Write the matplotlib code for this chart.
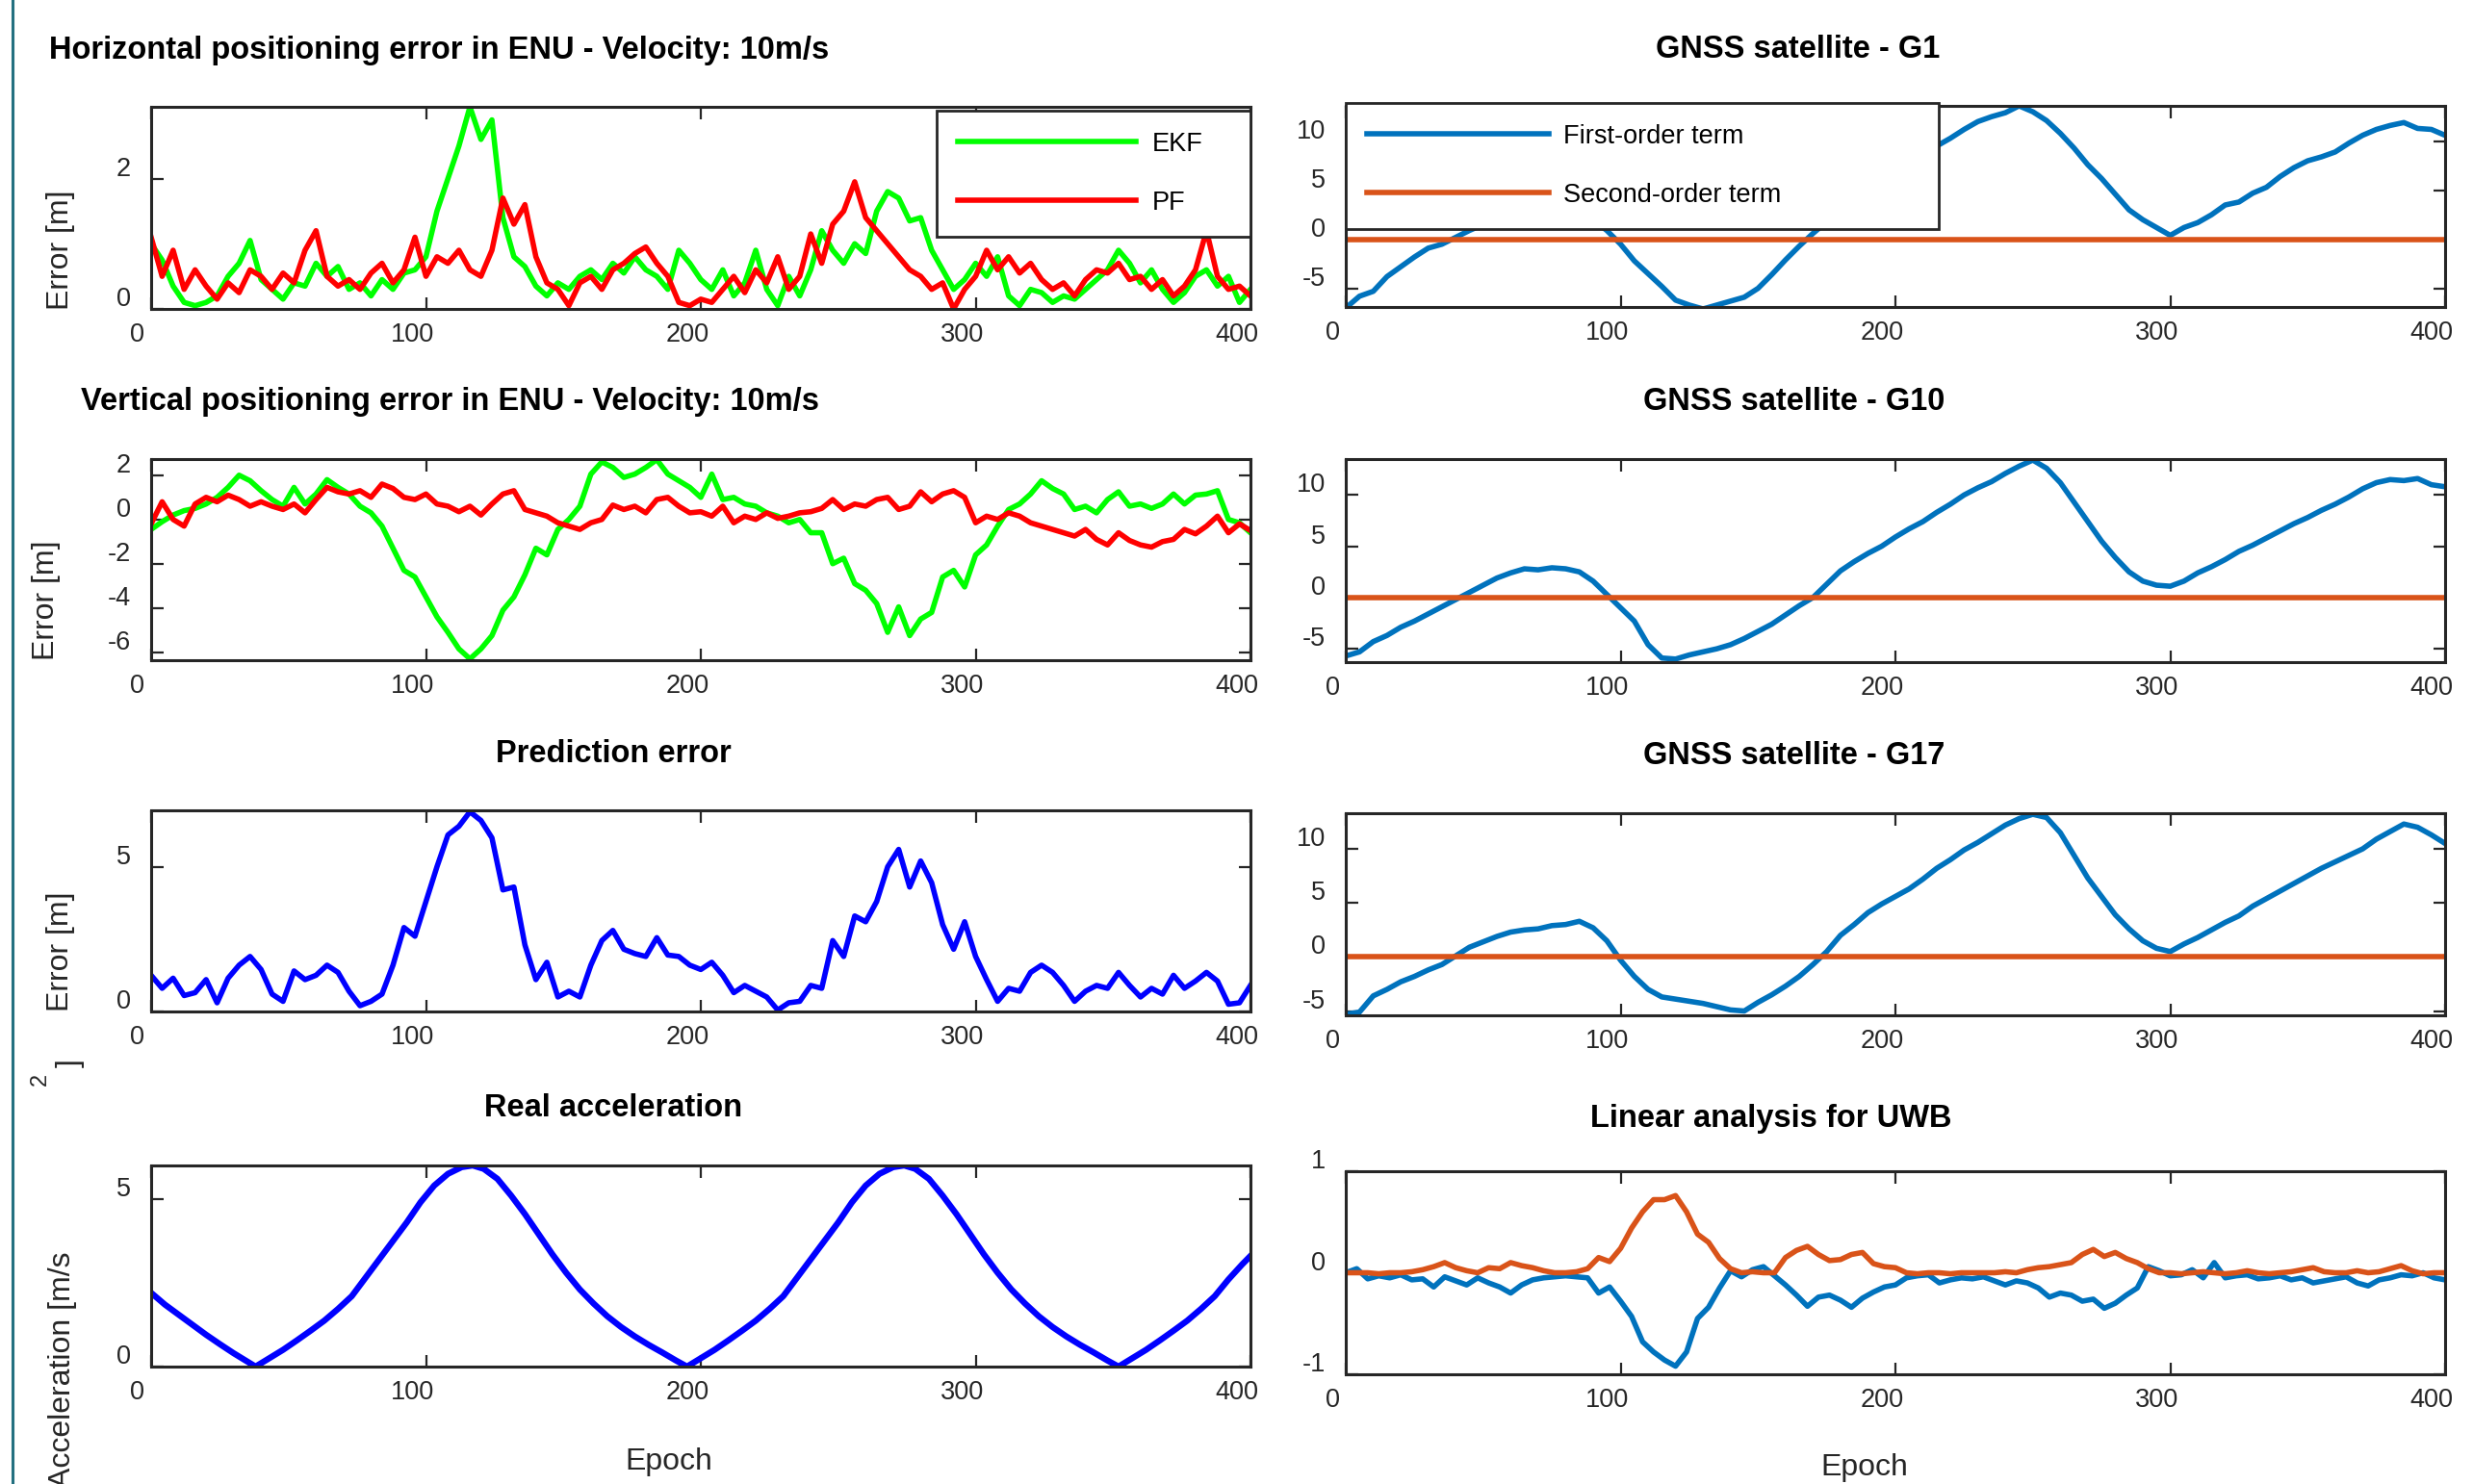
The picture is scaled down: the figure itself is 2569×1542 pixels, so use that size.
import numpy as np
import matplotlib
matplotlib.use("Agg")
import matplotlib.pyplot as plt
from matplotlib.transforms import ScaledTranslation
from matplotlib.lines import Line2D

plt.rcParams['font.family'] = ['Liberation Sans', 'DejaVu Sans']
plt.rcParams['axes.unicode_minus'] = False

# ---- data (epochs 0..400) ----
# horizontal error, step 4 epochs
horiz_ekf = [1.0, 0.75, 0.35, 0.1, 0.05, 0.1, 0.2, 0.5, 0.7, 1.05,
             0.45, 0.3, 0.15, 0.4, 0.35, 0.7, 0.5, 0.65, 0.3, 0.4,
             0.2, 0.45, 0.3, 0.55, 0.6, 0.8, 1.5, 2.0, 2.5, 3.1,
             2.6, 2.9, 1.4, 0.8, 0.65, 0.35, 0.2, 0.4, 0.3, 0.5,
             0.6, 0.45, 0.7, 0.55, 0.8, 0.6, 0.5, 0.3, 0.9, 0.7,
             0.45, 0.3, 0.6, 0.2, 0.4, 0.9, 0.3, 0.05, 0.5, 0.2,
             0.6, 1.2, 0.9, 0.7, 1.0, 0.85, 1.5, 1.8, 1.7, 1.35,
             1.4, 0.9, 0.6, 0.3, 0.45, 0.7, 0.5, 0.8, 0.2, 0.05,
             0.3, 0.25, 0.1, 0.2, 0.15, 0.3, 0.45, 0.6, 0.9, 0.7,
             0.4, 0.6, 0.3, 0.1, 0.25, 0.5, 0.6, 0.35, 0.5, 0.1,
             0.3]
horiz_pf = [1.1, 0.5, 0.9, 0.3, 0.6, 0.35, 0.15, 0.4, 0.25, 0.6,
            0.5, 0.3, 0.55, 0.4, 0.9, 1.2, 0.5, 0.35, 0.45, 0.3,
            0.55, 0.7, 0.4, 0.6, 1.1, 0.5, 0.8, 0.7, 0.9, 0.6,
            0.5, 0.9, 1.7, 1.3, 1.6, 0.8, 0.4, 0.3, 0.05, 0.4,
            0.5, 0.3, 0.6, 0.7, 0.85, 0.95, 0.7, 0.5, 0.1, 0.05,
            0.15, 0.1, 0.3, 0.5, 0.25, 0.6, 0.4, 0.8, 0.3, 0.5,
            1.15, 0.7, 1.3, 1.5, 1.95, 1.4, 1.2, 1.0, 0.8, 0.6,
            0.5, 0.3, 0.4, 0.0, 0.3, 0.5, 0.9, 0.6, 0.8, 0.55,
            0.7, 0.45, 0.3, 0.4, 0.2, 0.45, 0.6, 0.55, 0.7, 0.45,
            0.5, 0.3, 0.45, 0.2, 0.35, 0.6, 1.2, 0.5, 0.3, 0.35,
            0.2]

# vertical error, step 4 epochs
vert_ekf = [-0.45, -0.1, 0.2, 0.4, 0.5, 0.7, 1.0, 1.45, 2.0, 1.75,
            1.3, 0.9, 0.6, 1.45, 0.7, 1.15, 1.8, 1.45, 1.15, 0.6,
            0.3, -0.3, -1.3, -2.3, -2.6, -3.5, -4.4, -5.1, -5.85, -6.3,
            -5.85, -5.25, -4.1, -3.5, -2.5, -1.3, -1.6, -0.45, 0.0, 0.6,
            2.05, 2.6, 2.35, 1.9, 2.05, 2.35, 2.7, 2.05, 1.75, 1.45,
            1.0, 2.05, 0.9, 1.0, 0.7, 0.6, 0.3, 0.15, -0.15, 0.0,
            -0.6, -0.6, -2.0, -1.75, -2.9, -3.2, -3.8, -5.1, -3.95, -5.25,
            -4.5, -4.2, -2.6, -2.3, -3.05, -1.6, -1.15, -0.3, 0.45, 0.7,
            1.15, 1.75, 1.4, 1.15, 0.45, 0.6, 0.3, 0.9, 1.25, 0.6,
            0.7, 0.5, 0.7, 1.15, 0.7, 1.1, 1.15, 1.3, 0.0, -0.15,
            -0.6]
vert_pf = [-0.2, 0.8, 0.0, -0.3, 0.7, 1.0, 0.8, 1.1, 0.9, 0.6,
           0.8, 0.6, 0.45, 0.7, 0.3, 0.9, 1.45, 1.25, 1.15, 1.3,
           1.0, 1.6, 1.4, 1.0, 0.9, 1.15, 0.7, 0.6, 0.35, 0.6,
           0.2, 0.7, 1.15, 1.3, 0.45, 0.3, 0.15, -0.15, -0.3, -0.45,
           -0.15, 0.0, 0.65, 0.45, 0.6, 0.3, 0.9, 1.0, 0.6, 0.3,
           0.35, 0.15, 0.6, -0.15, 0.15, 0.0, 0.3, 0.05, 0.15, 0.3,
           0.35, 0.5, 0.9, 0.45, 0.7, 0.6, 0.9, 1.0, 0.45, 0.6,
           1.25, 0.8, 1.15, 1.3, 1.0, -0.15, 0.15, 0.0, 0.3, 0.15,
           -0.15, -0.3, -0.45, -0.6, -0.75, -0.45, -0.9, -1.15, -0.6, -0.95,
           -1.15, -1.25, -1.0, -0.9, -0.45, -0.65, -0.3, 0.15, -0.6, -0.2,
           -0.5]

# prediction error, step 4 epochs
pred_err = [1.25, 0.8, 1.15, 0.55, 0.65, 1.1, 0.3, 1.15, 1.6, 1.9,
            1.45, 0.6, 0.35, 1.4, 1.1, 1.25, 1.6, 1.35, 0.7, 0.2,
            0.35, 0.6, 1.6, 2.9, 2.6, 3.8, 5.0, 6.1, 6.4, 6.9,
            6.6, 6.0, 4.2, 4.3, 2.3, 1.1, 1.7, 0.5, 0.7, 0.5,
            1.6, 2.45, 2.8, 2.15, 2.0, 1.9, 2.55, 1.95, 1.9, 1.6,
            1.45, 1.7, 1.25, 0.65, 0.9, 0.7, 0.5, 0.05, 0.3, 0.35,
            0.9, 0.8, 2.45, 1.9, 3.3, 3.1, 3.8, 5.0, 5.6, 4.3,
            5.2, 4.45, 3.0, 2.15, 3.1, 1.9, 1.1, 0.35, 0.8, 0.7,
            1.35, 1.6, 1.35, 0.9, 0.35, 0.7, 0.9, 0.8, 1.35, 0.9,
            0.5, 0.8, 0.6, 1.25, 0.8, 1.05, 1.35, 1.05, 0.25, 0.3,
            0.9]

# real acceleration
acc_epoch = [0, 5, 10, 15, 20, 25, 30, 35, 38,
             43, 48, 53, 58, 63, 68, 73, 78, 83, 88, 93, 98, 103, 108, 113, 117,
             121, 126, 131, 136, 141, 146, 151, 156, 161, 166, 171, 176, 181, 186, 191, 195,
             200, 205, 210, 215, 220, 225, 230, 235, 240, 245, 250, 255, 260, 265, 270, 274,
             278, 283, 288, 293, 298, 303, 308, 313, 318, 323, 328, 333, 338, 343, 348, 352,
             357, 362, 367, 372, 377, 382, 387, 392, 397, 400]
acc_val = [2.2, 1.85, 1.55, 1.25, 0.95, 0.67, 0.4, 0.15, 0.0,
           0.25, 0.5, 0.78, 1.07, 1.37, 1.72, 2.1, 2.65, 3.2, 3.75, 4.3, 4.9, 5.4, 5.75, 5.95, 6.0,
           5.9, 5.6, 5.1, 4.55, 3.95, 3.35, 2.8, 2.3, 1.88, 1.5, 1.18, 0.9, 0.65, 0.42, 0.18, 0.0,
           0.25, 0.5, 0.78, 1.07, 1.37, 1.72, 2.1, 2.65, 3.2, 3.75, 4.3, 4.9, 5.4, 5.75, 5.95, 6.0,
           5.9, 5.6, 5.1, 4.55, 3.95, 3.35, 2.8, 2.3, 1.88, 1.5, 1.18, 0.9, 0.65, 0.42, 0.18, 0.0,
           0.25, 0.5, 0.78, 1.07, 1.37, 1.72, 2.1, 2.6, 3.05, 3.3]

# GNSS first-order terms, step 5 epochs
g1_first = [-7.0, -5.8, -5.3, -3.8, -2.8, -1.8, -0.9, -0.5, 0.2, 0.9,
            1.5, 2.0, 2.4, 2.6, 2.9, 3.0, 2.9, 2.6, 2.0, 0.9,
            -0.5, -2.2, -3.5, -4.8, -6.2, -6.7, -7.1, -6.7, -6.3, -5.9,
            -5.0, -3.6, -2.1, -0.7, 0.6, 1.8, 3.0, 4.2, 5.1, 6.0,
            6.8, 7.7, 8.6, 9.5, 10.3, 11.2, 12.0, 12.5, 12.9, 13.6,
            13.0, 12.1, 10.8, 9.3, 7.6, 6.2, 4.6, 3.0, 2.0, 1.2,
            0.4, 1.2, 1.7, 2.5, 3.5, 3.8, 4.7, 5.3, 6.4, 7.3,
            8.0, 8.4, 8.9, 9.8, 10.6, 11.2, 11.6, 11.9, 11.3, 11.2,
            10.6]
g10_first = [-5.7, -5.3, -4.3, -3.7, -2.9, -2.3, -1.6, -0.9, -0.2, 0.5,
             1.2, 1.9, 2.4, 2.8, 2.7, 2.9, 2.8, 2.5, 1.6, 0.3,
             -1.0, -2.3, -4.6, -5.9, -6.0, -5.6, -5.3, -5.0, -4.6, -4.0,
             -3.3, -2.6, -1.7, -0.8, 0.0, 1.3, 2.6, 3.5, 4.3, 5.0,
             5.9, 6.7, 7.4, 8.3, 9.1, 10.0, 10.7, 11.3, 12.1, 12.8,
             13.4, 12.6, 11.2, 9.3, 7.4, 5.5, 3.9, 2.5, 1.6, 1.2,
             1.1, 1.6, 2.4, 3.0, 3.7, 4.5, 5.1, 5.8, 6.5, 7.2,
             7.8, 8.5, 9.1, 9.8, 10.6, 11.2, 11.5, 11.4, 11.6, 11.0,
             10.8]
g17_first = [-5.3, -5.1, -3.6, -3.0, -2.3, -1.8, -1.2, -0.7, 0.1, 0.9,
             1.4, 1.9, 2.3, 2.5, 2.6, 2.9, 3.0, 3.3, 2.7, 1.5,
             -0.3, -1.8, -3.0, -3.7, -3.9, -4.1, -4.3, -4.6, -4.9, -5.0,
             -4.2, -3.5, -2.7, -1.8, -0.7, 0.5, 2.0, 3.0, 4.1, 4.9,
             5.6, 6.3, 7.2, 8.2, 9.0, 9.9, 10.6, 11.4, 12.2, 12.8,
             13.2, 12.9, 11.5, 9.4, 7.3, 5.6, 3.9, 2.6, 1.5, 0.8,
             0.5, 1.2, 1.8, 2.5, 3.2, 3.8, 4.7, 5.4, 6.1, 6.8,
             7.5, 8.2, 8.8, 9.4, 10.0, 10.9, 11.6, 12.3, 12.0, 11.3,
             10.5]
# second-order terms stay at zero
second_epoch = [0, 400]
second_order = [0.0, 0.0]

# UWB linear analysis, step 4 epochs
uwb_first = [0.0, 0.04, -0.06, -0.03, -0.05, -0.02, -0.07, -0.06, -0.14, -0.04,
             -0.08, -0.12, -0.05, -0.1, -0.14, -0.2, -0.12, -0.07, -0.05, -0.04,
             -0.03, -0.04, -0.05, -0.2, -0.14, -0.28, -0.43, -0.68, -0.78, -0.86,
             -0.92, -0.78, -0.45, -0.34, -0.15, 0.02, -0.04, 0.03, 0.06, -0.03,
             -0.12, -0.22, -0.33, -0.24, -0.22, -0.27, -0.34, -0.25, -0.19, -0.14,
             -0.12, -0.05, -0.03, -0.02, -0.1, -0.07, -0.05, -0.06, -0.04, -0.08,
             -0.12, -0.08, -0.1, -0.15, -0.24, -0.2, -0.22, -0.28, -0.26, -0.35,
             -0.3, -0.22, -0.15, 0.06, 0.02, -0.03, -0.02, 0.03, -0.05, 0.1,
             -0.05, -0.03, -0.02, -0.06, -0.05, -0.03, -0.07, -0.05, -0.1, -0.08,
             -0.06, -0.04, -0.1, -0.13, -0.07, -0.05, -0.02, -0.03, 0.0, -0.05,
             -0.07]
uwb_second = [0.0, 0.0, 0.0, -0.01, 0.0, 0.0, 0.01, 0.03, 0.06, 0.1,
              0.05, 0.02, 0.0, 0.05, 0.04, 0.1, 0.07, 0.05, 0.02, 0.0,
              0.0, 0.01, 0.04, 0.15, 0.11, 0.24, 0.44, 0.6, 0.72, 0.72,
              0.76, 0.6, 0.38, 0.3, 0.14, 0.04, 0.0, 0.01, 0.0, 0.0,
              0.15, 0.22, 0.26, 0.18, 0.12, 0.13, 0.18, 0.2, 0.09, 0.06,
              0.05, 0.0, -0.01, 0.0, 0.0, -0.01, 0.0, 0.0, 0.0, 0.0,
              0.01, 0.0, 0.03, 0.05, 0.06, 0.08, 0.1, 0.18, 0.23, 0.16,
              0.2, 0.14, 0.1, 0.04, 0.0, 0.0, -0.01, 0.0, 0.01, 0.0,
              -0.01, 0.0, 0.02, 0.0, -0.01, 0.0, 0.01, 0.03, 0.05, 0.01,
              0.0, 0.0, 0.02, 0.0, 0.01, 0.04, 0.07, 0.02, -0.01, 0.0,
              0.0]

x_ticks = [0, 100, 200, 300, 400]

# ---- figure ----
W, H = 2569, 1542
fig = plt.figure(figsize=(W / 100, H / 100), dpi=100)
DARK = '#262626'
LW = 4.0


def box(l, t, r, b):
    return [l / W, 1 - b / H, (r - l) / W, (b - t) / H]


def epochs(vals):
    return np.linspace(0, 400, len(vals))


def style(ax, ylim, yticks):
    ax.set_xlim(0, 400)
    ax.set_ylim(*ylim)
    ax.set_xticks(x_ticks)
    ax.set_yticks(yticks)
    ax.tick_params(direction='in', length=9, width=1.6, colors=DARK,
                   labelsize=19.5, top=True, right=True)
    ax.tick_params(axis='x', pad=10)
    ax.tick_params(axis='y', pad=15)
    for s in ax.spines.values():
        s.set_linewidth(2.2)
        s.set_color(DARK)
    for lab in ax.get_xticklabels():
        lab.set_transform(lab.get_transform() + ScaledTranslation(-0.14, 0, fig.dpi_scale_trans))
    for lab in ax.get_yticklabels():
        lab.set_transform(lab.get_transform() + ScaledTranslation(0, 0.13, fig.dpi_scale_trans))


def ftext(x, y, s, **kw):
    kw.setdefault('color', 'black')
    fig.text(x / W, 1 - y / H, s, ha='center', va='center', **kw)


# left column
ax1 = fig.add_axes(box(157, 111, 1299, 321))
e1, = ax1.plot(epochs(horiz_ekf), horiz_ekf, color='#00ff00', lw=LW)
p1, = ax1.plot(epochs(horiz_pf), horiz_pf, color='#ff0000', lw=LW)
style(ax1, (0, 3.1), [0, 2])
leg = ax1.legend([e1, p1], ['EKF', 'PF'], loc='upper left',
                 bbox_to_anchor=(973 / W, 1 - 254 / H, 326 / W, 139 / H),
                 bbox_transform=fig.transFigure, mode='expand', borderaxespad=0,
                 fontsize=19.5, handlelength=6.85, handletextpad=0.6,
                 labelspacing=1.3, borderpad=0.8, fancybox=False,
                 edgecolor=DARK, framealpha=1)
leg.get_frame().set_linewidth(2)

ax2 = fig.add_axes(box(157, 477, 1299, 686))
ax2.plot(epochs(vert_ekf), vert_ekf, color='#00ff00', lw=LW)
ax2.plot(epochs(vert_pf), vert_pf, color='#ff0000', lw=LW)
style(ax2, (-6.36, 2.73), [-6, -4, -2, 0, 2])

ax3 = fig.add_axes(box(157, 842, 1299, 1051))
ax3.plot(epochs(pred_err), pred_err, color='#0000ff', lw=LW)
style(ax3, (0, 6.95), [0, 5])

ax4 = fig.add_axes(box(157, 1211, 1299, 1420))
ax4.plot(acc_epoch, acc_val, color='#0000ff', lw=4.6)
style(ax4, (0, 6.0), [0, 5])

# right column
MBLUE, MORANGE = '#0072bd', '#d95319'
sat_specs = [(g1_first, (110, 319), (-6.9, 13.6)),
             (g10_first, (477, 688), (-6.3, 13.5)),
             (g17_first, (845, 1055), (-5.4, 13.3))]
sat_axes = []
for vals, (t, b), ylim in sat_specs:
    ax = fig.add_axes(box(1398, t, 2540, b))
    fo, = ax.plot(epochs(vals), vals, color=MBLUE, lw=LW)
    so, = ax.plot(second_epoch, second_order, color=MORANGE, lw=LW)
    style(ax, ylim, [-5, 0, 5, 10])
    sat_axes.append((ax, fo, so))

ax5, fo, so = sat_axes[0]
leg2 = ax5.legend([fo, so], ['First-order term', 'Second-order term'], loc='upper left',
                  bbox_to_anchor=(1398 / W, 1 - 245 / H, 616 / W, 138 / H),
                  bbox_transform=fig.transFigure, mode='expand', borderaxespad=0,
                  fontsize=19.5, handlelength=7.0, handletextpad=0.55,
                  labelspacing=1.3, borderpad=0.8, fancybox=False,
                  edgecolor=DARK, framealpha=1)
leg2.get_frame().set_linewidth(2)

ax8 = fig.add_axes(box(1398, 1217, 2540, 1428))
ax8.plot(epochs(uwb_first), uwb_first, color=MBLUE, lw=LW)
ax8.plot(epochs(uwb_second), uwb_second, color=MORANGE, lw=LW)
style(ax8, (-1, 1), [-1, 0, 1])

# titles
tkw = dict(fontsize=23.5, fontweight='bold')
ftext(456, 52, 'Horizontal positioning error in ENU - Velocity: 10m/s', **tkw)
ftext(468, 418, 'Vertical positioning error in ENU - Velocity: 10m/s', **tkw)
ftext(637, 783, 'Prediction error', **tkw)
ftext(637, 1152, 'Real acceleration', **tkw)
ftext(1868, 51, 'GNSS satellite - G1', **tkw)
ftext(1864, 418, 'GNSS satellite - G10', **tkw)
ftext(1864, 785, 'GNSS satellite - G17', **tkw)
ftext(1840, 1163, 'Linear analysis for UWB', **tkw)

# axis labels
lkw = dict(fontsize=23, color=DARK)
ftext(63, 260, 'Error [m]', rotation=90, **lkw)
ftext(48, 624, 'Error [m]', rotation=90, **lkw)
ftext(63, 989, 'Error [m]', rotation=90, **lkw)
fig.text(65 / W, 1 - 1300 / H, 'Acceleration [m/s', rotation=90, ha='center', va='top',
         fontsize=23, color=DARK)
ftext(73, 1105, ']', rotation=90, **lkw)
ftext(42, 1121, '2', rotation=90, fontsize=17, color=DARK)
ftext(695, 1519, 'Epoch', **lkw)
ftext(1937, 1525, 'Epoch', **lkw)

# thin frame line on the left edge
fig.add_artist(Line2D([13 / W, 13 / W], [0, 1], transform=fig.transFigure,
                      color='#237080', lw=2.2))

fig.savefig('out.png', dpi=100)
